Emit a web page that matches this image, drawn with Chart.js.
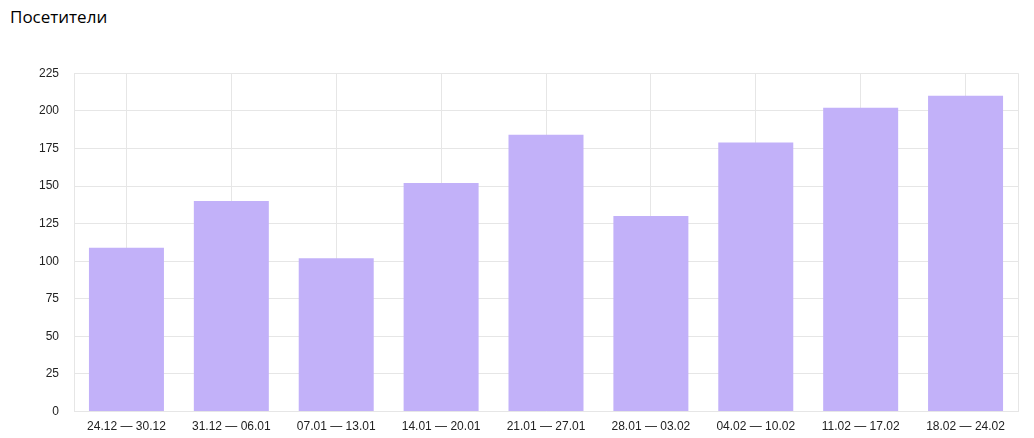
<!DOCTYPE html>
<html>
<head>
  <meta charset="UTF-8">
  <title>Посетители</title>
  <style>
    body {
      margin: 0;
      padding: 0;
      overflow: hidden;
      background: #fff;
    }

    h1 {
      position: absolute;
      left: 10px;
      top: 5px;
      margin: 0;
      font-family: "Open Sans", "Noto Sans", sans-serif;
      font-weight: normal;
      font-size: 17px;
      color: #000;
    }

    #chart-container {
      position: absolute;
      left: 0;
      top: 51px;
      width: 1034px;
      height: 395px;
    }
  </style>
  <script src="https://cdn.jsdelivr.net/npm/chart.js"></script>
</head>
<body>
  <h1>Посетители</h1>
  <div id="chart-container">
    <canvas id="chart"></canvas>
  </div>

  <script>
    var weeks = ['24.12 — 30.12', '31.12 — 06.01', '07.01 — 13.01', '14.01 — 20.01', '21.01 — 27.01',
                 '28.01 — 03.02', '04.02 — 10.02', '11.02 — 17.02', '18.02 — 24.02'];
    var visitors = [109, 140, 102, 152, 184, 130, 179, 202, 210];
    var yTicks = [0, 25, 50, 75, 100, 125, 150, 175, 200, 225];

    // right frame line, the reference closes the plot on that side
    var rightBorder = {
      id: 'rightBorder',
      beforeDatasetsDraw: function (chart) {
        var a = chart.chartArea;
        var c = chart.ctx;
        c.save();
        c.strokeStyle = '#e6e6e6';
        c.lineWidth = 1;
        c.beginPath();
        c.moveTo(Math.round(a.right) + 0.5, a.top);
        c.lineTo(Math.round(a.right) + 0.5, a.bottom);
        c.stroke();
        c.restore();
      }
    };

    var ctx = document.getElementById('chart').getContext('2d');
    var chart = new Chart(ctx, {
      type: 'bar',
      data: {
        labels: weeks,
        datasets: [{
          label: 'Посетители',
          data: visitors,
          backgroundColor: '#c2b1f9',
          borderWidth: 0,
          barPercentage: 0.715,
          categoryPercentage: 1
        }]
      },
      options: {
        responsive: true,
        maintainAspectRatio: false,
        animation: false,
        layout: { padding: { left: 0, right: 16, top: 13, bottom: 4 } },
        plugins: {
          legend: { display: false },
          tooltip: { enabled: false }
        },
        scales: {
          x: {
            offset: true,
            grid: { color: '#e6e6e6', offset: false, drawTicks: false },
            border: { color: '#e6e6e6' },
            ticks: {
              color: '#222',
              padding: 8,
              maxRotation: 0,
              font: { family: 'Liberation Sans, Arial', size: 12 }
            }
          },
          y: {
            min: 0,
            max: 225,
            afterFit: function (scale) { scale.width = 74; },
            afterBuildTicks: function (scale) {
              scale.ticks = yTicks.map(function (v) { return { value: v }; });
            },
            grid: { color: '#e6e6e6', drawTicks: false },
            border: { color: '#e6e6e6' },
            ticks: {
              color: '#222',
              padding: 15,
              font: { family: 'Liberation Sans, Arial', size: 12 }
            }
          }
        }
      },
      plugins: [rightBorder]
    });
  </script>
</body>
</html>
